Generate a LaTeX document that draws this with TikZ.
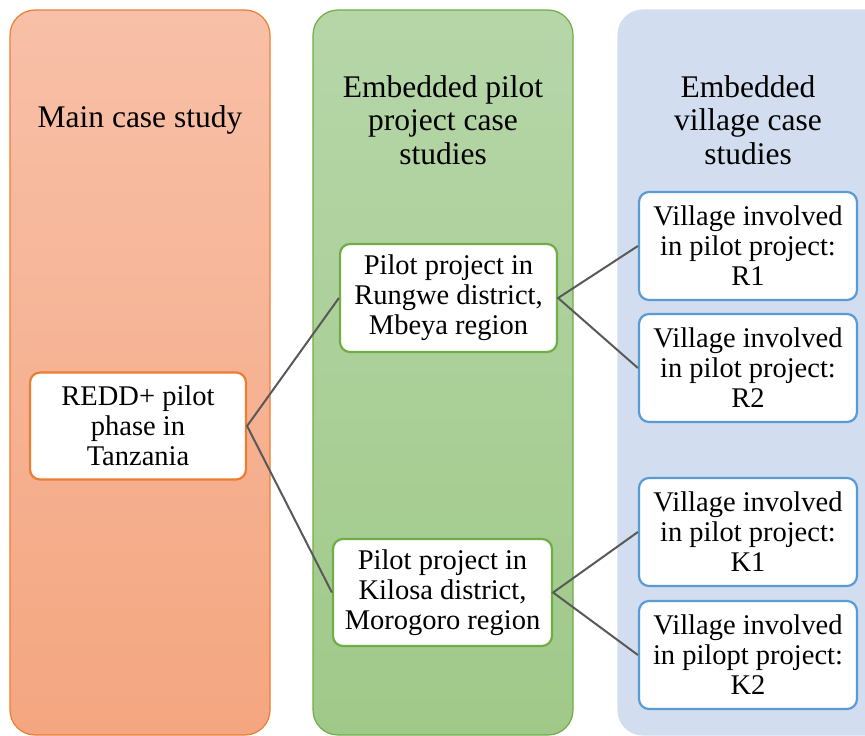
\documentclass[tikz,border=0pt]{standalone}
\usepackage{fontspec}
\setmainfont{Liberation Serif}
\definecolor{orangeline}{HTML}{ED7D31}
\definecolor{greenline}{HTML}{70AD47}
\definecolor{blueline}{HTML}{5B9BD5}
\definecolor{linkgray}{HTML}{595959}
\definecolor{orangetop}{HTML}{F8C0A8}
\definecolor{orangebot}{HTML}{F4A680}
\definecolor{greentop}{HTML}{B6D6A8}
\definecolor{greenbot}{HTML}{A0C989}
\definecolor{bluefill}{HTML}{D2DEEF}
\begin{document}
\begin{tikzpicture}[x=1pt,y=-1pt,
  col/.style={rounded corners=25pt, line width=1.2pt, inner sep=0pt},
  box/.style={draw, fill=white, rounded corners=10pt, line width=2.2pt,
    minimum width=217pt, minimum height=108pt, align=center, inner sep=0pt,
    font=\fontsize{28.5}{30}\selectfont},
  head/.style={align=center, inner sep=0pt, font=\fontsize{31.5}{33.5}\selectfont},
  link/.style={draw=linkgray, line width=2pt}]
\useasboundingbox (0,0) rectangle (865,736);
\clip (0,0) rectangle (865,736);
% columns
\node[col, draw=orangeline, top color=orangetop, bottom color=orangebot,
  minimum width=260pt, minimum height=725pt] (c1) at (140,372.5) {};
\node[col, draw=greenline, top color=greentop, bottom color=greenbot,
  minimum width=260pt, minimum height=725pt] (c2) at (443,372.5) {};
\node[col, draw=bluefill, fill=bluefill,
  minimum width=280pt, minimum height=725pt] (c3) at (758,372.5) {};
% headings
\node[head] (h1) at (140,120) {Main case study};
\node[head] (h2) at (443,120) {Embedded pilot\\project case\\studies};
\node[head] (h3) at (748,120) {Embedded\\village case\\studies};
% boxes
\node[box, draw=orangeline, minimum width=216pt, minimum height=107pt] (redd) at (138,426) {REDD+ pilot\\phase in\\Tanzania};
\node[box, draw=greenline] (rung) at (448.5,298) {Pilot project in\\Rungwe district,\\Mbeya region};
\node[box, draw=greenline, minimum width=219pt, minimum height=107pt] (kil) at (442.5,592.5) {Pilot project in\\Kilosa district,\\Morogoro region};
\node[box, draw=blueline, minimum width=218pt] (r1) at (748,246) {Village involved\\in pilot project:\\R1};
\node[box, draw=blueline, minimum width=218pt] (r2) at (748,368) {Village involved\\in pilot project:\\R2};
\node[box, draw=blueline, minimum width=218pt] (k1) at (748,532) {Village involved\\in pilot project:\\K1};
\node[box, draw=blueline, minimum width=218pt] (k2) at (748,655) {Village involved\\in pilopt project:\\K2};
% connectors
\draw[link] (rung.west) -- (redd.east) -- (kil.west);
\draw[link] (r1.west) -- (rung.east) -- (r2.west);
\draw[link] (k1.west) -- (kil.east) -- (k2.west);
\end{tikzpicture}
\end{document}
